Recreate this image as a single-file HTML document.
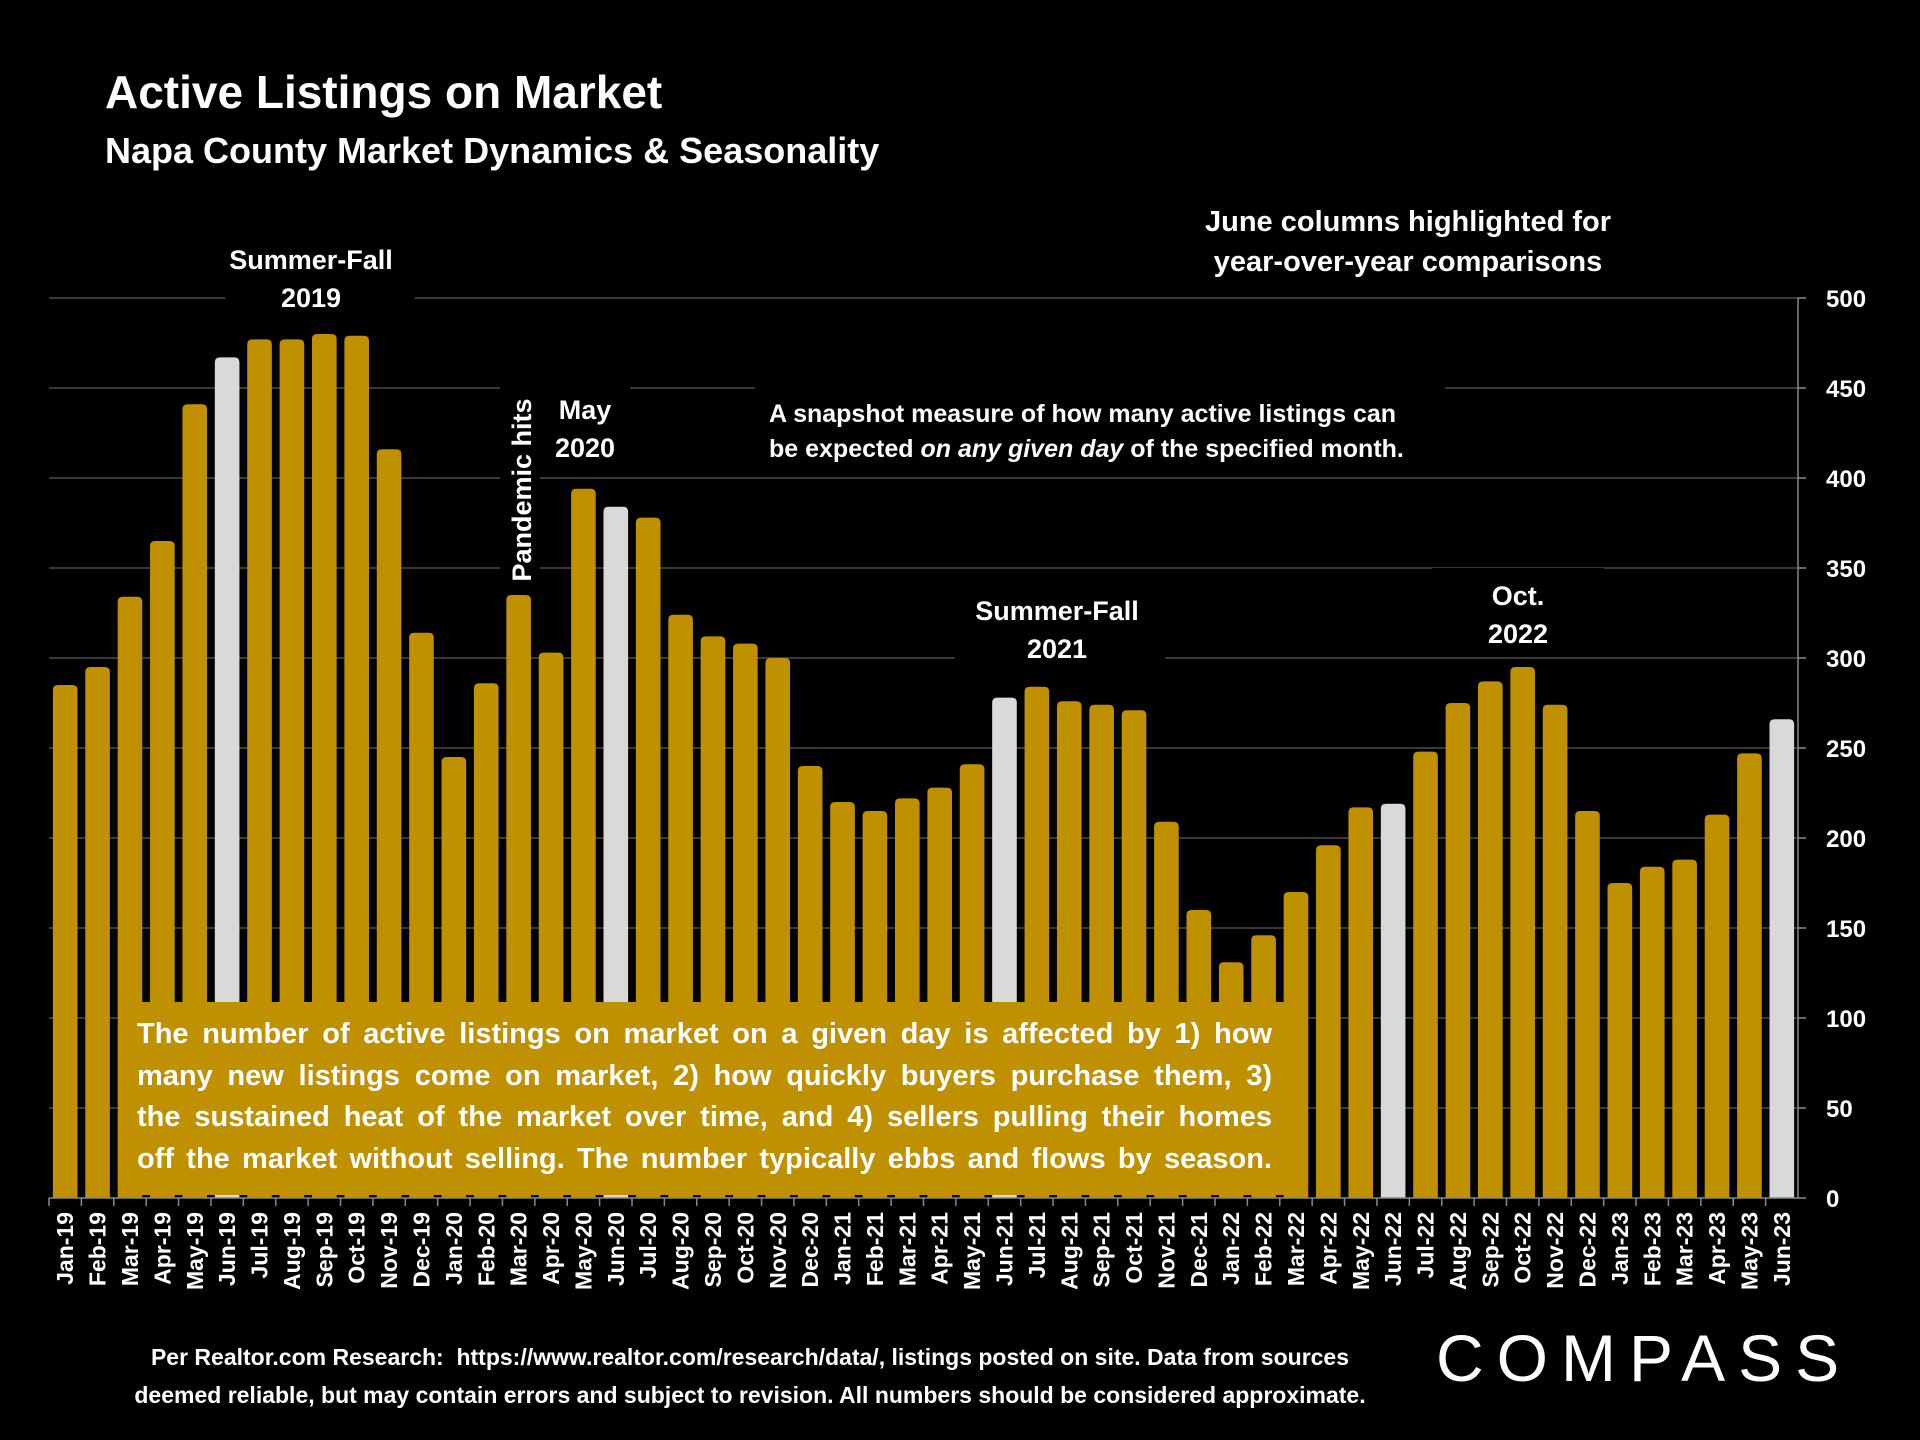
<!DOCTYPE html>
<html><head><meta charset="utf-8">
<style>
html,body{margin:0;padding:0;background:#000;}
body{width:1920px;height:1440px;overflow:hidden;position:relative;font-family:"Liberation Sans",sans-serif;color:#fff;}
svg{position:absolute;left:0;top:0;}
.ln{text-align:justify;text-align-last:justify;white-space:nowrap;}
</style></head>
<body>
<svg id="chart" width="1920" height="1440">
  <g id="grid"></g>
  <g id="bars"></g>
  <g id="axis"></g>
  <text x="105" y="108" font-size="46" font-weight="bold" fill="#fff">Active Listings on Market</text>
  <text x="105" y="163" font-size="36" font-weight="bold" fill="#fff">Napa County Market Dynamics &amp; Seasonality</text>
  <g font-weight="bold" fill="#fff" text-anchor="middle" font-size="27">
    <rect x="225" y="236" width="190" height="76" fill="#000"/>
    <text x="311" y="269"><tspan x="311">Summer-Fall</tspan><tspan x="311" dy="38">2019</tspan></text>
    <rect x="540" y="380" width="90" height="80" fill="#000"/>
    <text x="585" y="419"><tspan x="585">May</tspan><tspan x="585" dy="38">2020</tspan></text>
    <rect x="500" y="380" width="40" height="200" fill="#000"/>
    <text transform="translate(531,490) rotate(-90)">Pandemic hits</text>
    <rect x="955" y="584" width="210" height="76" fill="#000"/>
    <text x="1057" y="620"><tspan x="1057">Summer-Fall</tspan><tspan x="1057" dy="38">2021</tspan></text>
    <rect x="1432" y="568" width="172" height="76" fill="#000"/>
    <text x="1518" y="605"><tspan x="1518">Oct.</tspan><tspan x="1518" dy="38">2022</tspan></text>
    <rect x="1180" y="196" width="456" height="90" fill="#000"/>
    <text x="1408" y="231" font-size="29"><tspan x="1408">June columns highlighted for</tspan><tspan x="1408" dy="40">year-over-year comparisons</tspan></text>
  </g>
  <rect x="755" y="385" width="690" height="80" fill="#000"/>
  <text x="769" y="422" font-size="25" font-weight="bold" fill="#fff"><tspan x="769">A snapshot measure of how many active listings can</tspan><tspan x="769" dy="35">be expected <tspan font-style="italic">on any given day</tspan> of the specified month.</tspan></text>
</svg>
<div style="position:absolute;left:119px;top:1002px;width:1186px;height:193px;background:#bf9000;box-sizing:border-box;padding:12px 33px 0 18px;font-size:29px;font-weight:bold;line-height:41.5px;">
<div class="ln">The number of active listings on market on a given day is affected by 1) how</div>
<div class="ln">many new listings come on market, 2) how quickly buyers purchase them, 3)</div>
<div class="ln">the sustained heat of the market over time, and 4) sellers pulling their homes</div>
<div class="ln">off the market without selling. The number typically ebbs and flows by season.</div>
</div>
<div style="position:absolute;left:100px;top:1338px;width:1300px;text-align:center;font-size:23px;font-weight:bold;line-height:38px;">Per Realtor.com Research:&nbsp; https://www.realtor.com/research/data/, listings posted on site. Data from sources<br>deemed reliable, but may contain errors and subject to revision. All numbers should be considered approximate.</div>
<div style="position:absolute;left:1436px;top:1322px;font-size:66px;letter-spacing:13px;font-weight:normal;line-height:72px;">COMPASS</div>
<script>
const categories=["Jan-19","Feb-19","Mar-19","Apr-19","May-19","Jun-19","Jul-19","Aug-19","Sep-19","Oct-19","Nov-19","Dec-19","Jan-20","Feb-20","Mar-20","Apr-20","May-20","Jun-20","Jul-20","Aug-20","Sep-20","Oct-20","Nov-20","Dec-20","Jan-21","Feb-21","Mar-21","Apr-21","May-21","Jun-21","Jul-21","Aug-21","Sep-21","Oct-21","Nov-21","Dec-21","Jan-22","Feb-22","Mar-22","Apr-22","May-22","Jun-22","Jul-22","Aug-22","Sep-22","Oct-22","Nov-22","Dec-22","Jan-23","Feb-23","Mar-23","Apr-23","May-23","Jun-23"];
const listings=[285,295,334,365,441,467,477,477,480,479,416,314,245,286,335,303,394,384,378,324,312,308,300,240,220,215,222,228,241,278,284,276,274,271,209,160,131,146,170,196,217,219,248,275,287,295,274,215,175,184,188,213,247,266];
const yTicks=[0,50,100,150,200,250,300,350,400,450,500];
const NS="http://www.w3.org/2000/svg";
const X0=49,X1=1798,Y0=1198,Y1=298,YMAX=500;
const band=(X1-X0)/categories.length;
const y=v=>Y0-(v/YMAX)*(Y0-Y1);
const x=i=>X0+i*band;
function mk(tag,attrs,parent){const e=document.createElementNS(NS,tag);for(const k in attrs)e.setAttribute(k,attrs[k]);parent.appendChild(e);return e;}
const grid=document.getElementById('grid'),bars=document.getElementById('bars'),axis=document.getElementById('axis');
yTicks.forEach(t=>{
  if(t>0){const g=mk('line',{x1:X0,x2:X1,y1:y(t),y2:y(t),stroke:'#4a4a4a','stroke-width':1.5},grid);
  
  }
  const tk=mk('line',{x1:X1,x2:X1+8,y1:y(t),y2:y(t),stroke:'#888','stroke-width':1.5},axis);
  
  
  const tl=mk('text',{x:X1+28,y:y(t)+9,'font-size':24,'font-weight':'bold',fill:'#fff'},axis);
  tl.textContent=t;
  
  
});
const bw=band*0.76;
listings.forEach((v,i)=>{
  const cx=x(i)+band/2;
  const isJune=categories[i].startsWith('Jun');
  const top=y(v),r=5;
  const d=`M${cx-bw/2},${Y0} L${cx-bw/2},${top+r} Q${cx-bw/2},${top} ${cx-bw/2+r},${top} L${cx+bw/2-r},${top} Q${cx+bw/2},${top} ${cx+bw/2},${top+r} L${cx+bw/2},${Y0} Z`;
  const b=mk('path',{d:d,fill:isJune?'#d9d9d9':'#bf9000'},bars);
  
  
  const tk=mk('line',{x1:x(i),x2:x(i),y1:Y0,y2:Y0+8,stroke:'#888','stroke-width':1.5},axis);
  
  
  const lbl=mk('text',{transform:`translate(${cx+8},${Y0+14}) rotate(-90)`,'text-anchor':'end','font-size':23,'font-weight':'bold',fill:'#fff'},axis);
  lbl.textContent=categories[i];
  
  
});
const ax=mk('line',{x1:X0,x2:X1,y1:Y0,y2:Y0,stroke:'#888','stroke-width':1.5},axis);


const ay=mk('line',{x1:X1,x2:X1,y1:Y1,y2:Y0,stroke:'#888','stroke-width':1.5},axis);


</script>
</body></html>
